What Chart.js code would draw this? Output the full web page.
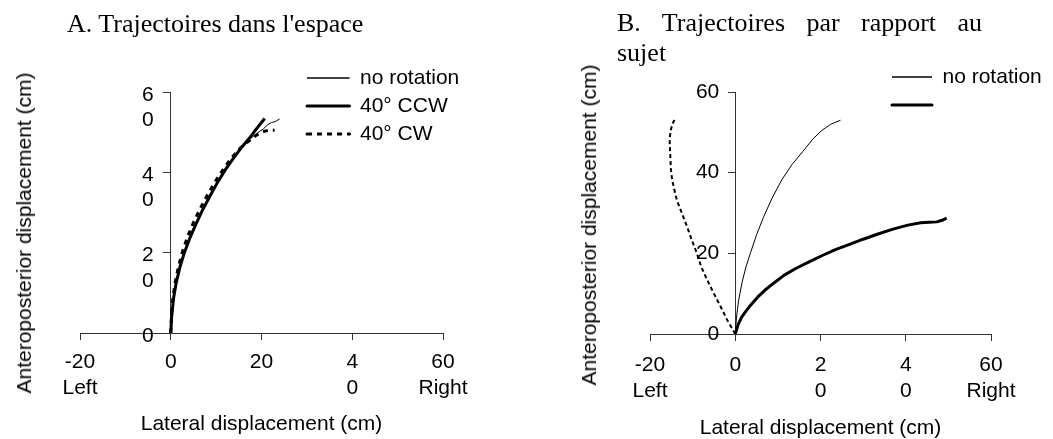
<!DOCTYPE html>
<html><head><meta charset="utf-8">
<script src="https://cdn.jsdelivr.net/npm/chart.js@4/dist/chart.umd.min.js"></script>
<style>
html,body{margin:0;padding:0;background:#fff;width:1053px;height:439px;overflow:hidden;}
#wrap{position:relative;width:1053px;height:439px;}
canvas{position:absolute;top:0;}
#cA{left:0px;} #cB{left:520px;}
.head{position:absolute;font-family:"Liberation Serif","Times New Roman",serif;font-size:26px;color:#000;line-height:30px;white-space:nowrap;}
.ytitle{position:absolute;font-family:"Liberation Sans",Arial,sans-serif;font-size:21px;color:#000;white-space:nowrap;transform:translate(-50%,-50%) rotate(-90deg);}
</style></head>
<body>
<div id="wrap">
<canvas id="cA" width="520" height="439"></canvas>
<canvas id="cB" width="533" height="439"></canvas>
<div class="head" style="left:67px;top:9px;">A. Trajectoires dans l'espace</div>
<div class="head" style="left:617px;top:8px;width:365px;white-space:normal;">
  <div style="text-align:justify;text-align-last:justify;">B. Trajectoires par rapport au</div>
  <div>sujet</div>
</div>
<div class="ytitle" style="left:24px;top:233px;">Anteroposterior displacement (cm)</div>
<div class="ytitle" style="left:589px;top:225px;">Anteroposterior displacement (cm)</div>
</div>
<script>
// ---- tick values & labels ----
const xTickValues = [-20, 0, 20, 40, 60];
const yTickValues = [0, 20, 40, 60];
const xTickLabelsA = [['-20', 'Left'], '0', '20', ['4', '0'], ['60', 'Right']];
const yTickLabelsA = ['0', ['', '2', '0'], ['', '4', '0'], ['', '6', '0']];
const xTickLabelsB = [['-20', 'Left'], '0', ['2', '0'], ['4', '0'], ['60', 'Right']];
const yTickLabelsB = ['0', '20', '40', '60'];
const seriesLabelsA = ['no rotation', '40° CCW', '40° CW'];
const seriesLabelsB = ['no rotation', '', ''];
const xTitle = 'Lateral displacement (cm)';

// ---- A: trajectories in space ----
const noRotA_x = [0, 0.25, 0.7, 1.3, 2.1, 3.1, 4.3, 5.6, 7.1, 8.7, 10.4, 12.1, 13.9, 15.7, 17.4, 19.0, 20.4, 21.3, 22.2, 23.0, 24.0];
const noRotA_y = [0, 4.3, 8.8, 12.6, 16.4, 20.1, 23.7, 27.1, 30.7, 34.1, 37.5, 40.6, 43.5, 46.2, 48.3, 49.7, 50.8, 51.8, 52.4, 52.6, 53.3];
const ccwA_x = [0, 0.2, 0.6, 1.2, 2.0, 3.0, 4.2, 5.5, 7.0, 8.6, 10.3, 12.0, 13.8, 15.6, 17.4, 19.0, 20.7];
const ccwA_y = [0, 4.0, 8.5, 12.5, 16.3, 20.0, 23.6, 27.0, 30.6, 34.0, 37.5, 40.6, 43.5, 46.2, 48.6, 51.0, 53.4];
const cwA_x = [0, 0.15, 0.5, 1.0, 1.7, 2.6, 3.7, 5.0, 6.5, 8.1, 9.8, 11.6, 13.4, 15.3, 17.2, 18.8, 20.2, 21.4, 22.9];
const cwA_y = [0, 4.5, 9.0, 12.8, 16.5, 20.3, 24.0, 27.5, 31.0, 34.4, 37.7, 40.8, 43.6, 46.0, 47.8, 49.2, 50.1, 50.4, 50.5];

// ---- B: trajectories relative to subject ----
const noRotB_x = [0, 0.3, 0.8, 1.6, 2.5, 3.6, 5.0, 6.6, 8.6, 10.9, 13.3, 15.8, 18.1, 20.2, 22.4, 24.7];
const noRotB_y = [0, 4.2, 8.4, 12.8, 16.6, 20.2, 24.6, 28.9, 33.6, 38.2, 42.0, 45.2, 48.2, 50.4, 52.0, 53.0];
const ccwB_x = [0, 0.7, 1.5, 2.6, 3.8, 5.3, 7.0, 9.0, 11.5, 14.3, 17.2, 20.3, 23.5, 26.8, 30.0, 33.5, 37.0, 40.5, 43.5, 45.5, 47.3, 48.5, 49.6];
const ccwB_y = [0, 2.4, 4.2, 5.8, 7.4, 9.2, 10.9, 12.6, 14.6, 16.3, 17.8, 19.4, 20.9, 22.2, 23.5, 24.8, 26.0, 27.0, 27.6, 27.7, 27.8, 28.2, 28.7];
const cwB_x = [0, -0.8, -1.9, -3.3, -4.9, -6.6, -8.0, -9.0, -10.2, -11.3, -12.5, -13.7, -14.3, -14.8, -15.1, -15.2, -15.3, -15.4, -15.2, -14.8, -14.4, -14.0];
const cwB_y = [0, 1.5, 3.5, 6.5, 9.8, 13.4, 16.7, 20.0, 23.3, 26.6, 29.9, 33.2, 35.8, 38.2, 40.8, 43.2, 45.6, 48.1, 50.2, 51.9, 52.8, 53.5];

function pts(xs, ys) { return xs.map((x, i) => ({x: x, y: ys[i]})); }

Chart.defaults.font.family = '"Liberation Sans", Arial, sans-serif';
Chart.defaults.font.size = 21;
Chart.defaults.color = '#000';

// places the legend box at a given spot after layout
const legendPlacer = {
  id: 'legendPlacer',
  afterLayout(chart, args, opts) {
    const lg = chart.legend;
    if (!lg) return;
    const w = lg.width, h = lg.height;
    lg.left = opts.x; lg.top = opts.y;
    lg.right = opts.x + w; lg.bottom = opts.y + h;
  }
};

// moves y tick labels of an axis placed at x=0 to the left of its tick marks
const yLabelGap = {
  id: 'yLabelGap',
  beforeDraw(chart, args, opts) {
    const sc = chart.scales.y;
    const items = sc.getLabelItems(chart.chartArea);
    items.forEach((it) => {
      if (!it.__shifted) {
        it.options.translation[0] -= opts.gap;
        it.options.translation[1] += opts.dy;
        it.__shifted = true;
      }
    });
  }
};

function lineDs(label, xs, ys, width, dash) {
  return {
    label: label, data: pts(xs, ys), showLine: true,
    borderColor: '#000', backgroundColor: 'rgba(0,0,0,0)',
    borderWidth: width, borderDash: dash, pointRadius: 0, pointHoverRadius: 0,
    tension: 0, borderJoinStyle: 'round'
  };
}

function makeChart(id, c) {
  return new Chart(document.getElementById(id), {
    type: 'scatter',
    data: { datasets: c.datasets },
    options: {
      responsive: false, animation: false, events: [],
      layout: { padding: c.pad },
      plugins: {
        tooltip: { enabled: false },
        legend: {
          position: 'chartArea', align: 'start', fullSize: false,
          labels: {
            boxWidth: c.boxW, boxHeight: 0, padding: 7, color: '#000',
            font: { size: 21 },
            filter: (item) => item.datasetIndex < c.legendCount
          }
        },
        legendPlacer: { x: c.legX, y: c.legY },
        yLabelGap: { gap: c.ygap, dy: c.ydy }
      },
      scales: {
        x: {
          type: 'linear', position: 'bottom', min: -20, max: 60,
          afterFit: (s) => { s.height = c.xh; },
          ticks: {
            stepSize: 20, autoSkip: false, maxRotation: 0, minRotation: 0,
            padding: c.xpad, color: '#000', font: { size: 21, lineHeight: 1.2 },
            callback: (v) => c.xLabels[xTickValues.indexOf(v)]
          },
          grid: { display: true, drawOnChartArea: false, drawTicks: true, tickLength: 7, color: '#333' },
          border: { display: true, color: '#333', width: 1 },
          title: { display: true, text: xTitle, color: '#000', font: { size: 21, lineHeight: 1.2 },
                   padding: { top: 0, bottom: c.xtb } }
        },
        y: {
          type: 'linear', position: { x: 0 }, min: 0, max: 60,
          ticks: {
            stepSize: 20, autoSkip: false, color: '#000',
            font: { size: 21, lineHeight: 1.2 },
            callback: (v) => c.yLabels[yTickValues.indexOf(v)]
          },
          grid: { display: true, drawOnChartArea: false, drawTicks: true, tickLength: 7, color: '#333' },
          border: { display: true, color: '#333', width: 1 }
        }
      }
    },
    plugins: [legendPlacer, yLabelGap]
  });
}

makeChart('cA', {
  datasets: [
    lineDs(seriesLabelsA[0], noRotA_x, noRotA_y, 1, []),
    lineDs(seriesLabelsA[1], ccwA_x, ccwA_y, 3, []),
    lineDs(seriesLabelsA[2], cwA_x, cwA_y, 3, [5, 5])
  ],
  pad: { left: 80, right: 77, top: 92, bottom: 0 },
  xh: 106, xpad: 10, xtb: 2, ygap: 17, ydy: 3,
  xLabels: xTickLabelsA, yLabels: yTickLabelsA,
  boxW: 42.5, legendCount: 3, legX: 300, legY: 60.5
});

makeChart('cB', {
  datasets: [
    lineDs(seriesLabelsB[0], noRotB_x, noRotB_y, 1, []),
    lineDs(seriesLabelsB[1], ccwB_x, ccwB_y, 3, []),
    lineDs(seriesLabelsB[2], cwB_x, cwB_y, 2, [4, 3])
  ],
  pad: { left: 130, right: 62, top: 92, bottom: 0 },
  xh: 105, xpad: 12, xtb: -2, ygap: 16, ydy: 0,
  xLabels: xTickLabelsB, yLabels: yTickLabelsB,
  boxW: 40, legendCount: 2, legX: 365, legY: 59.5
});
</script>
</body></html>
